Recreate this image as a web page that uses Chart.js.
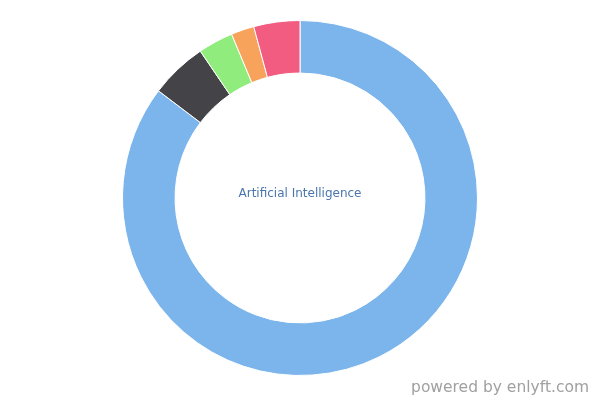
<!DOCTYPE html>
<html>
<head>
<meta charset="utf-8">
<script src="https://cdn.jsdelivr.net/npm/chart.js@4/dist/chart.umd.min.js"></script>
<style>
    html, body {margin: 0; padding: 0; background: #fff;}
    #wrap {position: relative; width: 600px; height: 400px;}
    #credit {
        position: absolute; right: 11px; top: 378px;
        font: 15.5px "DejaVu Sans", sans-serif; color: #a0a0a0;
    }
</style>
</head>
<body>
<div id="wrap">
    <canvas id="chart" width="600" height="400"></canvas>
    <div id="credit">powered by enlyft.com</div>
</div>
<script>
const labels = ['Artificial Intelligence', 'Other 1', 'Other 2', 'Other 3', 'Other 4']
const shares = [85.4, 5.2, 3.2, 2.1, 4.2]
const colors = ['#7cb5ec', '#434348', '#90ed7d', '#f7a35c', '#f15c80']
const centerLabel = 'Artificial Intelligence'

const centerText = {
    id: 'centerText',
    afterDraw(chart) {
        const meta = chart.getDatasetMeta(0).data[0]
        const ctx = chart.ctx
        ctx.save()
        ctx.font = '12px "DejaVu Sans", sans-serif'
        ctx.fillStyle = '#4a76ad'
        ctx.textAlign = 'center'
        ctx.textBaseline = 'middle'
        ctx.fillText(centerLabel, meta.x, meta.y - 4)
        ctx.restore()
    },
}

new Chart(document.getElementById('chart').getContext('2d'), {
    type: 'doughnut',
    data: {
        labels: labels,
        datasets: [{
            data: shares,
            backgroundColor: colors,
            borderColor: '#fff',
            borderWidth: 1,
        }],
    },
    options: {
        responsive: false,
        animation: false,
        cutout: '70.4%',
        layout: {padding: {top: 20, bottom: 24}},
        plugins: {
            legend: {display: false},
            tooltip: {enabled: false},
        },
    },
    plugins: [centerText],
})
</script>
</body>
</html>
